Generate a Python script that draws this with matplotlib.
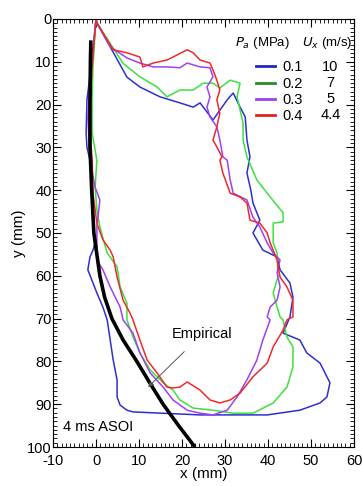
import matplotlib
matplotlib.use("Agg")
import matplotlib.pyplot as plt
from matplotlib.lines import Line2D
from matplotlib.ticker import MultipleLocator

plt.rcParams['font.family'] = ['Liberation Sans', 'DejaVu Sans']
plt.rcParams['axes.unicode_minus'] = False

# spray contours at 4 ms ASOI, (x mm, y mm)
blue_x = [0, 0.2, 3.3, 7.2, 10.2, 14.9, 19.5, 22.6, 24.2, 27.2, 30.5, 31.9, 33.5, 34.7, 35.1, 35.8, 35.1, 36.0,
          36.5, 38.1, 36.5, 38.8, 42.1, 42.8, 45.1, 45.8, 45.1, 43.5, 47.4, 49.0, 52.1, 54.4, 53.7, 52.1,
          47.4, 39.8, 24.2, 8.6, 7.2, 5.6, 4.9, 4.9, 4.0, 3.3, 2.6, 1.6, 0.2, -1.9, -1.4, -0.7, -0.2,
          -0.7, -0.9, -1.4, -2.1, -2.3, -2.1, -1.0, 0]
blue_y = [0, 0.9, 6.5, 13.6, 15.9, 18.2, 19.6, 20.6, 19.6, 23.6, 18.9, 17.3, 20.6, 22.9, 28.3, 32.2, 36.0, 40.0,
          43.0, 47.0, 50.0, 54.0, 55.6, 58.6, 61.7, 65.0, 69.6, 73.4, 75.0, 78.0, 80.4, 85.0, 88.3, 89.7,
          91.4, 92.5, 92.5, 91.8, 91.4, 90.2, 88.3, 84.3, 79.7, 75.0, 70.3, 67.3, 64.0, 58.6, 55.6, 54.0, 52.3,
          47.0, 40.7, 33.0, 30.0, 26.6, 18.9, 10.0, 0]

green_x = [0, 0.2, 3.3, 6.3, 10.2, 14.2, 16.5, 19.5, 22.6, 24.9, 27.2, 28.8, 31.2, 33.5, 32.8, 33.5, 34.2,
           34.2, 35.1, 37.4, 40.5, 43.5, 43.5, 41.2, 41.2, 42.1, 42.3, 41.2, 42.1, 42.8, 43.5, 44.4, 45.8,
           45.8, 44.4, 41.2, 36.5, 31.9, 27.2, 22.6, 19.5, 17.9, 15.6, 12.6, 10.2, 8.6, 7.2, 7.2, 5.6, 4.9,
           2.6, 0.9, 0.2, -0.2, 0.2, -0.9, -0.9, -0.7, 0]
green_y = [0, 0.9, 5.7, 10.4, 13.5, 15.9, 18.2, 16.6, 16.6, 15.0, 15.0, 16.1, 14.3, 15.0, 18.2, 21.3, 24.3,
           28.3, 32.2, 37.6, 41.6, 45.3, 47.4, 47.7, 52.3, 54.7, 60.3, 64.0, 67.3, 69.6, 70.3, 74.3, 76.6,
           81.3, 86.0, 89.7, 92.1, 92.1, 91.4, 90.9, 89.0, 86.7, 85.0, 82.0, 78.0, 74.3, 70.3, 66.4, 62.6, 57.9,
           54.7, 48.6, 44.6, 39.3, 33.0, 26.6, 18.9, 11.2, 0]

purple_x = [0, 0.2, 3.3, 7.2, 10.2, 13.3, 16.5, 19.5, 21.2, 24.2, 26.5, 27.2, 25.8, 26.5, 25.8, 26.5, 28.1,
            28.8, 29.5, 30.5, 31.2, 31.9, 35.1, 36.5, 38.1, 39.8, 41.2, 42.8, 42.1, 42.8, 42.1, 40.5, 39.8,
            40.5, 38.8, 37.4, 35.1, 32.8, 30.5, 27.2, 24.2, 21.2, 17.9, 15.6, 12.6, 10.2, 8.6, 6.3, 5.6, 3.3,
            1.6, 0.2, 0.2, 0.9, -0.2, -1.4, -1.9, -1.4, 0]
purple_y = [0, 0.9, 6.5, 9.1, 10.3, 11.2, 11.2, 11.4, 10.3, 11.2, 11.4, 13.5, 15.9, 18.2, 20.6, 22.9, 25.2,
            28.3, 32.2, 33.0, 37.6, 40.7, 42.3, 46.3, 48.6, 52.3, 54.7, 56.3, 59.3, 62.6, 65.7, 67.3, 69.6,
            70.3, 75.0, 79.7, 84.3, 88.3, 91.4, 92.5, 92.1, 91.4, 89.0, 86.0, 82.7, 78.0, 73.4, 70.3, 67.3, 62.6,
            58.6, 56.3, 48.6, 42.3, 39.3, 33.0, 22.9, 15.0, 0]

red_x = [0, 0.2, 2.6, 4.0, 7.2, 10.2, 10.9, 13.3, 16.5, 17.9, 21.2, 22.6, 24.2, 26.5, 27.2, 28.1, 28.8, 28.1,
         28.8, 28.1, 27.2, 28.1, 29.3, 28.8, 29.5, 31.2, 33.5, 35.1, 35.8, 38.1, 39.8, 40.5, 42.1, 42.8, 44.4,
         45.8, 45.8, 44.4, 43.5, 41.2, 39.8, 36.5, 33.5, 31.2, 28.8, 26.5, 24.2, 21.2, 19.5, 17.9, 16.5, 14.2,
         11.9, 10.2, 8.6, 7.9, 6.3, 4.9, 4.0, 3.3, 1.6, 0.2, -0.7, -0.9, -1.6, -0.9, 0]
red_y = [0, 0.9, 4.9, 7.2, 7.9, 8.9, 11.2, 10.3, 9.6, 8.9, 7.2, 7.9, 9.6, 10.3, 11.9, 14.3, 16.6, 18.9,
         22.0, 25.2, 28.3, 29.9, 32.2, 33.0, 36.0, 40.7, 41.6, 43.0, 47.0, 47.7, 50.0, 52.3, 56.3, 60.3, 62.6,
         65.7, 69.6, 70.3, 72.7, 76.6, 80.4, 83.6, 87.4, 89.0, 89.7, 89.0, 86.7, 84.8, 86.0, 86.2, 86.0, 82.7,
         79.7, 75.0, 70.3, 68.7, 65.7, 60.3, 55.6, 54.0, 51.6, 47.7, 40.7, 33.0, 22.9, 11.2, 0]

# empirical penetration curve
emp_x = [-1.2, -1.3, -1.4, -1.4, -1.0, -0.5, 0.2, 0.9, 2.0, 3.7, 6.3, 9.5, 12.5, 15.6, 19.2, 23.0]
emp_y = [5, 10, 20, 30, 40, 50, 55, 60, 65, 70, 75, 80, 85, 90, 95, 100]

pressures = ['0.1', '0.2', '0.3', '0.4']
velocities = ['10', '7', '5', '4.4']
line_colors = ['#2f2fd0', '#3de03d', '#a040f0', '#ee2a2a']
legend_colors = ['#2323c8', '#2a8a2a', '#a040f0', '#dd2222']

fig = plt.figure(figsize=(3.62, 4.86), dpi=100)
ax = fig.add_axes([0.1464, 0.0802, 0.8316, 0.8808])

for xs, ys, c in zip([blue_x, green_x, purple_x, red_x], [blue_y, green_y, purple_y, red_y], line_colors):
    ax.plot(xs, ys, color=c, lw=1.1)
ax.plot(emp_x, emp_y, color='black', lw=2.6, solid_capstyle='butt')

ax.set_xlim(-10, 60)
ax.set_ylim(100, 0)
ax.xaxis.set_major_locator(MultipleLocator(10))
ax.xaxis.set_minor_locator(MultipleLocator(1))
ax.yaxis.set_major_locator(MultipleLocator(10))
ax.yaxis.set_minor_locator(MultipleLocator(1))
ax.tick_params(which='both', direction='in', top=True, right=True, labelsize=10.5)
ax.tick_params(axis='x', pad=5)
ax.tick_params(axis='y', pad=1)
ax.tick_params(which='major', length=6)
ax.tick_params(which='minor', length=3)
ax.set_xlabel('x (mm)', fontsize=11, labelpad=-1)
ax.set_ylabel('y (mm)', fontsize=11, labelpad=1)

handles = [Line2D([], [], color=c, lw=2) for c in legend_colors]
ax.legend(handles, pressures, loc='upper left', bbox_to_anchor=(0.65, 0.92), frameon=False,
          fontsize=10.5, handlelength=1.3, handletextpad=0.5, labelspacing=0.16, borderpad=0)
for i, v in enumerate(velocities):
    ax.text(54.5, 11.2 + i * 3.75, v, fontsize=10.5, ha='center', va='center')
ax.text(32.3, 5.6, r'$P_a$ (MPa)', fontsize=9.5, va='center')
ax.text(47.9, 5.6, r'$U_x$ (m/s)', fontsize=9.5, va='center')

ax.annotate('Empirical', xy=(12.1, 86), xytext=(24.7, 73.6), fontsize=10.5, ha='center', va='center',
            arrowprops=dict(arrowstyle='-|>', color='#555555', lw=0.7, shrinkA=8, shrinkB=0,
                            mutation_scale=8))
ax.text(-7.7, 95.3, '4 ms ASOI', fontsize=10.5, va='center')

fig.savefig('out.png', dpi=100)
